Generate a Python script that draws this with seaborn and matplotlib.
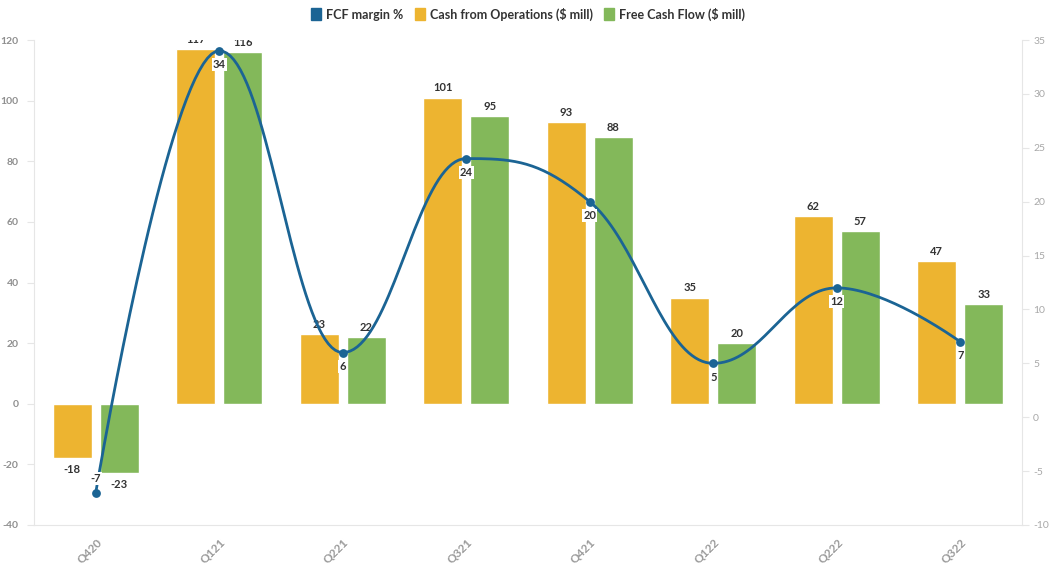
import numpy as np
import pandas as pd
import matplotlib
matplotlib.use("Agg")
import matplotlib.pyplot as plt
import seaborn as sns
from matplotlib.patches import Patch

# ==========================================
# DADOS
# ==========================================
quarters = ["Q420", "Q121", "Q221", "Q321", "Q421", "Q122", "Q222", "Q322"]
cash_ops = [-18, 117, 23, 101, 93, 35, 62, 47]
fcf = [-23, 116, 22, 95, 88, 20, 57, 33]
fcf_margin = [-7, 34, 6, 24, 20, 5, 12, 7]

lbl_ops = "Cash from Operations ($ mill)"
lbl_fcf = "Free Cash Flow ($ mill)"
lbl_margin = "FCF margin %"

c_ops = "#EDB430"
c_fcf = "#83B85A"
c_line = "#1B6494"
c_text = "#333333"

df = pd.DataFrame({
    "quarter": quarters * 2,
    "value": cash_ops + fcf,
    "serie": [lbl_ops] * len(quarters) + [lbl_fcf] * len(quarters),
})


def spline_path(xs, ys, smoothing=1.5, n=40):
    """Curva suave estilo 'spline' (controle bezier) passando pelos pontos"""
    xs = np.asarray(xs, float)
    ys = np.asarray(ys, float)
    k = len(xs)
    left = [(xs[0], ys[0])] * k
    right = [(xs[0], ys[0])] * k
    d = smoothing + 1
    for i in range(k):
        px, py = xs[i], ys[i]
        if i == 0 or i == k - 1:
            left[i] = (px, py)
            right[i] = (px, py)
            continue
        lx, ly = xs[i - 1], ys[i - 1]
        nx, ny = xs[i + 1], ys[i + 1]
        lcx = (smoothing * px + lx) / d
        lcy = (smoothing * py + ly) / d
        rcx = (smoothing * px + nx) / d
        rcy = (smoothing * py + ny) / d
        if rcx != lcx:
            corr = ((rcy - lcy) * (rcx - px)) / (rcx - lcx) + py - rcy
            lcy += corr
            rcy += corr
        if lcy > ly and lcy > py:
            lcy = max(ly, py)
            rcy = 2 * py - lcy
        elif lcy < ly and lcy < py:
            lcy = min(ly, py)
            rcy = 2 * py - lcy
        if rcy > ny and rcy > py:
            rcy = max(ny, py)
            lcy = 2 * py - rcy
        elif rcy < ny and rcy < py:
            rcy = min(ny, py)
            lcy = 2 * py - rcy
        left[i] = (lcx, lcy)
        right[i] = (rcx, rcy)
    t = np.linspace(0, 1, n)
    out_x, out_y = [], []
    for i in range(1, k):
        p0 = np.array([xs[i - 1], ys[i - 1]])
        p1 = np.array(right[i - 1])
        p2 = np.array(left[i])
        p3 = np.array([xs[i], ys[i]])
        pts = ((1 - t) ** 3)[:, None] * p0 + (3 * (1 - t) ** 2 * t)[:, None] * p1 \
            + (3 * (1 - t) * t ** 2)[:, None] * p2 + (t ** 3)[:, None] * p3
        out_x.extend(pts[:, 0])
        out_y.extend(pts[:, 1])
    return np.array(out_x), np.array(out_y)


# ==========================================
# GRÁFICO
# ==========================================
sns.set_style("white")
plt.rcParams["font.family"] = ["Lato", "DejaVu Sans"]
plt.rcParams["axes.unicode_minus"] = False

fig = plt.figure(figsize=(10.56, 5.68), dpi=100)
ax = fig.add_axes([34 / 1056, 43 / 568, 988 / 1056, 485 / 568])

sns.barplot(
    data=df, x="quarter", y="value", hue="serie",
    palette=[c_ops, c_fcf], width=0.76, gap=0.17,
    saturation=1, legend=False, ax=ax,
)

ax.set_xlim(-0.5, len(quarters) - 0.5)
ax.set_ylim(-40, 120)
ax.set_yticks(range(-40, 121, 20))
ax.set_xlabel("")
ax.set_ylabel("")

# rótulos das barras
for cont in ax.containers:
    for bar in cont:
        h = bar.get_height()
        xc = bar.get_x() + bar.get_width() / 2
        if h >= 0:
            ax.annotate(f"{h:.0f}", (xc, h), xytext=(0, 3), textcoords="offset points",
                        ha="center", va="bottom", fontsize=8, fontweight="bold",
                        color=c_text, clip_on=True)
        else:
            ax.annotate(f"{h:.0f}", (xc, h), xytext=(0, -4), textcoords="offset points",
                        ha="center", va="top", fontsize=8, fontweight="bold",
                        color=c_text, clip_on=True)

# eixo direito - margem FCF
ax2 = ax.twinx()
ax2.set_ylim(-10, 35)
ax2.set_yticks(range(-10, 36, 5))
xi = np.arange(len(quarters))
sx, sy = spline_path(xi, fcf_margin)
ax2.plot(sx, sy, color=c_line, lw=2, zorder=3)
sns.scatterplot(x=xi, y=fcf_margin, color=c_line, s=40, edgecolor=c_line,
                linewidth=0, zorder=4, ax=ax2, legend=False)
for x, v in zip(xi, fcf_margin):
    off = -6 if v >= 0 else 6
    ax2.annotate(f"{v}", (x, v), xytext=(0, off), textcoords="offset points",
                 ha="center", va="top" if v >= 0 else "bottom",
                 fontsize=8, fontweight="bold", color=c_text, zorder=5,
                 bbox=dict(boxstyle="square,pad=0.1", fc="white", ec="none"))

# estilo dos eixos
axis_col = "#E6E6E6"
for a in (ax, ax2):
    for s in a.spines.values():
        s.set_visible(False)
ax.spines["left"].set_visible(True)
ax.spines["left"].set_color(axis_col)
ax.spines["bottom"].set_visible(True)
ax.spines["bottom"].set_color(axis_col)
ax2.spines["right"].set_visible(True)
ax2.spines["right"].set_color(axis_col)

ax.tick_params(axis="y", length=5, color=axis_col, labelsize=7.5, labelcolor="#8F8F8F", pad=6)
for t in ax.get_yticklabels():
    t.set_fontweight("bold")
ax2.tick_params(axis="y", length=5, color=axis_col, labelsize=7.5, labelcolor="#A8A8A8", pad=3)
ax.tick_params(axis="x", length=5, color=axis_col, labelsize=8.5, labelcolor="#9A9A9A", pad=3)
ax.set_xticks(xi)
ax.set_xticklabels(quarters, rotation=45, ha="right", va="top", rotation_mode="anchor",
                   fontweight="bold")
ax.grid(False)
ax2.grid(False)

# legenda
handles = [Patch(color=c_line, label=lbl_margin),
           Patch(color=c_ops, label=lbl_ops),
           Patch(color=c_fcf, label=lbl_fcf)]
leg = fig.legend(handles=handles, loc="center", bbox_to_anchor=(0.5, 0.975), ncol=3,
                 frameon=False, handlelength=0.8, handleheight=1.1, handletextpad=0.4,
                 columnspacing=0.9, prop={"size": 9, "weight": "bold"})
for t in leg.get_texts():
    t.set_color(c_text)

fig.savefig("out.png", dpi=100)
